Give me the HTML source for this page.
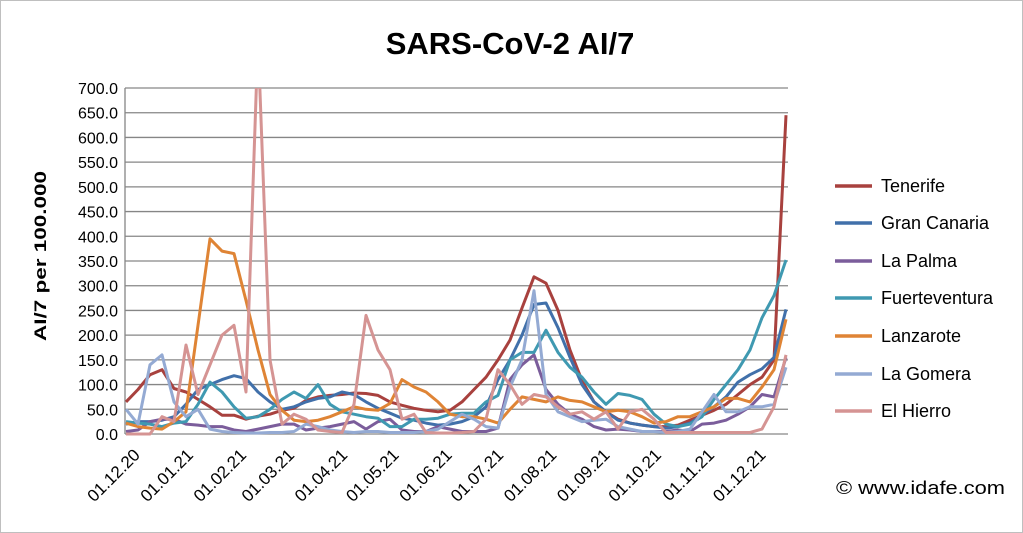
<!DOCTYPE html>
<html><head><meta charset="utf-8"><style>
html,body{margin:0;padding:0;background:#fff}
svg{display:block;font-family:"Liberation Sans",Arial,sans-serif}
</style></head><body>
<svg id="chart" width="1023" height="533" viewBox="0 0 1023 533">
<rect x="0.5" y="0.5" width="1022" height="532" fill="#fff" stroke="#bfbfbf"/>
<text x="510" y="54" text-anchor="middle" font-size="31" font-weight="bold" fill="#000">SARS-CoV-2 AI/7</text>
<text transform="translate(46,256) rotate(-90)" text-anchor="middle" font-size="17" font-weight="bold" fill="#000" textLength="170" lengthAdjust="spacingAndGlyphs">AI/7 per 100.000</text>
<text x="836" y="494" font-size="18" fill="#000" textLength="169" lengthAdjust="spacingAndGlyphs">© www.idafe.com</text>
<defs><clipPath id="pc"><rect x="120" y="88" width="680" height="350"/></clipPath></defs>
<g id="grid"></g><g id="series" clip-path="url(#pc)"></g><g id="legend"></g>
</svg>
<script>
const yTicks=[0,50,100,150,200,250,300,350,400,450,500,550,600,650,700];
const monthLabels=["01.12.20","01.01.21","01.02.21","01.03.21","01.04.21","01.05.21","01.06.21","01.07.21","01.08.21","01.09.21","01.10.21","01.11.21","01.12.21"];
const monthDays=[0,31,62,90,121,151,182,212,243,274,304,335,365];
const seriesNames=["Tenerife","Gran Canaria","La Palma","Fuerteventura","Lanzarote","La Gomera","El Hierro"];
const seriesColors=["#a8413e","#4170aa","#7b5d9b","#3f99b1","#df8435","#94aad3","#d59493"];
const tenerife=[65,90,120,130,92,85,70,55,38,38,30,36,40,48,52,68,75,78,80,83,82,78,65,58,52,48,45,48,65,90,115,150,190,255,318,305,250,170,108,65,45,30,22,18,15,15,18,28,38,48,60,80,100,115,150,645];
const granCanaria=[20,25,25,28,35,60,90,100,110,118,112,85,65,50,55,65,72,75,85,80,65,52,42,32,28,22,18,20,25,35,55,110,150,200,262,265,215,155,100,65,45,28,22,18,15,12,15,22,38,55,75,105,120,132,155,252];
const laPalma=[5,8,25,30,30,20,18,15,15,8,5,10,15,20,20,8,12,15,20,25,10,25,30,8,5,5,15,10,5,5,5,12,110,140,160,90,60,40,30,15,8,10,8,5,5,5,8,5,20,22,28,40,55,80,75,155];
const fuerteventura=[25,22,20,15,22,25,60,105,85,55,32,35,50,70,85,72,100,60,45,40,35,32,15,15,30,30,32,40,42,42,65,78,150,165,165,210,165,135,115,85,60,82,78,70,40,20,15,20,35,70,100,130,170,235,280,352];
const lanzarote=[22,15,12,10,25,45,220,395,370,365,270,170,80,48,28,25,28,35,45,55,50,48,62,110,95,85,65,40,35,35,30,22,50,75,70,65,75,68,65,55,45,48,45,35,22,25,35,35,45,55,72,72,65,95,130,232];
const laGomera=[50,20,140,160,65,35,50,10,5,3,2,2,3,3,5,20,15,8,5,3,5,5,3,3,3,5,10,25,40,30,15,12,95,150,290,80,45,35,25,28,30,15,10,5,5,3,5,10,45,80,45,45,55,55,60,135];
const elHierro=[0,0,0,35,25,180,80,140,200,220,85,800,150,20,40,30,8,5,3,60,240,170,130,30,40,3,2,2,3,5,30,130,100,60,80,75,55,40,45,30,45,10,45,50,30,3,3,3,3,3,3,3,3,10,55,160];
const allSeries=[tenerife,granCanaria,laPalma,fuerteventura,lanzarote,laGomera,elHierro];
const X0=126,X1=786,Y0=434,YTOP=88,YMAX=700,STEP_DAYS=7;
const totalDays=(tenerife.length-1)*STEP_DAYS;
function xDay(d){return X0+(X1-X0)*d/totalDays;}
function xIdx(i){return xDay(i*STEP_DAYS);}
function yVal(v){return Y0-(Y0-YTOP)*v/YMAX;}
const NS="http://www.w3.org/2000/svg";
const grid=document.getElementById('grid');
yTicks.forEach(t=>{
  const l=document.createElementNS(NS,'line');
  l.setAttribute('x1',125);l.setAttribute('x2',788);
  l.setAttribute('y1',yVal(t));l.setAttribute('y2',yVal(t));
  l.setAttribute('stroke','#868686');l.setAttribute('stroke-width',1.3);
  
  
  grid.appendChild(l);
  const tx=document.createElementNS(NS,'text');
  tx.setAttribute('x',118);tx.setAttribute('y',yVal(t)+6);
  tx.setAttribute('text-anchor','end');tx.setAttribute('font-size','16');
  tx.textContent=t.toFixed(1);
  
  
  grid.appendChild(tx);
});
const ax=document.createElementNS(NS,'line');
ax.setAttribute('x1',125);ax.setAttribute('x2',125);ax.setAttribute('y1',YTOP);ax.setAttribute('y2',Y0);
ax.setAttribute('stroke','#868686');ax.setAttribute('stroke-width',1.3);


grid.appendChild(ax);
monthLabels.forEach((m,i)=>{
  const x=xDay(monthDays[i])+15;
  const tx=document.createElementNS(NS,'text');
  tx.setAttribute('transform','translate('+x+',456) rotate(-45)');
  tx.setAttribute('text-anchor','end');tx.setAttribute('font-size','17');
  tx.textContent=m;
  
  
  grid.appendChild(tx);
});
const sg=document.getElementById('series');
allSeries.forEach((s,k)=>{
  const p=document.createElementNS(NS,'polyline');
  p.setAttribute('points',s.map((v,i)=>xIdx(i).toFixed(1)+','+yVal(v).toFixed(1)).join(' '));
  p.setAttribute('fill','none');p.setAttribute('stroke',seriesColors[k]);
  p.setAttribute('stroke-width',3);p.setAttribute('stroke-linejoin','round');
  
  
  sg.appendChild(p);
});
const lg=document.getElementById('legend');
const legendY=[186,223,261,298,336,374,411];
seriesNames.forEach((n,k)=>{
  const l=document.createElementNS(NS,'line');
  l.setAttribute('x1',835);l.setAttribute('x2',872);l.setAttribute('y1',legendY[k]);l.setAttribute('y2',legendY[k]);
  l.setAttribute('stroke',seriesColors[k]);l.setAttribute('stroke-width',3.5);
  
  
  lg.appendChild(l);
  const t=document.createElementNS(NS,'text');
  t.setAttribute('x',881);t.setAttribute('y',legendY[k]+6);t.setAttribute('font-size','18');
  t.textContent=n;
  
  
  lg.appendChild(t);
});
</script>
</body></html>
